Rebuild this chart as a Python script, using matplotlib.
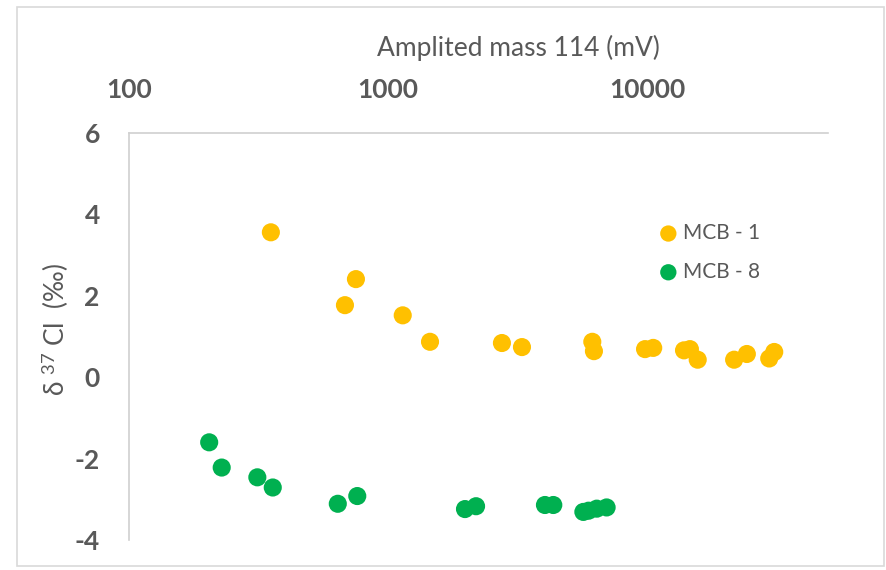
import matplotlib.pyplot as plt
from matplotlib.patches import Rectangle
from matplotlib.ticker import FixedLocator, FixedFormatter, NullLocator

plt.rcParams['font.family'] = ['Lato', 'DejaVu Sans']
plt.rcParams['mathtext.fontset'] = 'custom'
plt.rcParams['mathtext.rm'] = 'Lato'
plt.rcParams['mathtext.it'] = 'Lato:italic'

# amplitude of mass 114 (mV) and delta 37Cl (permil)
mcb1_amp = [353, 682, 752, 1140, 1453, 2754, 3291, 6150, 6240, 9830, 10570,
            13900, 14650, 15700, 21700, 24300, 29650, 31000]
mcb1_d37 = [3.56, 1.77, 2.41, 1.52, 0.87, 0.84, 0.74, 0.87, 0.64, 0.69, 0.72,
            0.66, 0.69, 0.43, 0.43, 0.57, 0.46, 0.62]

mcb8_amp = [204, 228, 313, 359, 640, 761, 1983, 2188, 4037, 4348,
            5680, 5950, 6400, 6985]
mcb8_d37 = [-1.60, -2.22, -2.46, -2.71, -3.11, -2.92, -3.24, -3.17, -3.14, -3.14,
            -3.31, -3.28, -3.23, -3.20]

xticks = [100, 1000, 10000]
yticks = [-4, -2, 0, 2, 4, 6]

gold = '#FFC000'
green = '#00B050'
txt = '#595959'
grid_gray = '#D0D0D0'

fig = plt.figure(figsize=(8.86, 5.70), dpi=100)
W, H = 886, 570

# chart area border
fig.patches.append(Rectangle((17 / W, 1 - 566 / H), (884 - 17) / W, (566 - 7) / H,
                             transform=fig.transFigure, fill=False,
                             edgecolor='#D9D9D9', linewidth=1.2))

ax = fig.add_axes([129 / W, 1 - 540 / H, (828 - 129) / W, (540 - 133) / H])

ax.scatter(mcb1_amp, mcb1_d37, s=170, color=gold, edgecolors='none', label='MCB - 1', zorder=3)
ax.scatter(mcb8_amp, mcb8_d37, s=170, color=green, edgecolors='none', label='MCB - 8', zorder=3)

ax.set_xscale('log')
ax.set_xlim(100, 50000)
ax.set_ylim(-4, 6)

ax.xaxis.tick_top()
ax.xaxis.set_major_locator(FixedLocator(xticks))
ax.xaxis.set_major_formatter(FixedFormatter([str(v) for v in xticks]))
ax.xaxis.set_minor_locator(NullLocator())
ax.set_yticks(yticks)
ax.set_yticklabels([str(v) for v in yticks])

ax.tick_params(axis='x', length=0, pad=22, labelsize=19, labelcolor=txt)
ax.tick_params(axis='y', length=0, pad=21, labelsize=19, labelcolor=txt)
for lab in ax.get_xticklabels() + ax.get_yticklabels():
    lab.set_fontweight('bold')

for side in ['bottom', 'right']:
    ax.spines[side].set_visible(False)
for side in ['left', 'top']:
    ax.spines[side].set_color(grid_gray)
    ax.spines[side].set_linewidth(1.2)

fig.text(518 / W, 1 - 48 / H, 'Amplited mass 114 (mV)', ha='center', va='center',
         fontsize=19, color=txt)
fig.text(55 / W, 1 - 329 / H, r'δ $^{37}$ Cl  (‰)', ha='center', va='center',
         rotation=90, fontsize=19, color=txt)

leg = ax.legend(loc='upper left', bbox_to_anchor=(660 / W, 1 - 223 / H),
                bbox_transform=fig.transFigure, frameon=False, fontsize=15,
                handlelength=0.8, handletextpad=0.3, labelspacing=0.9,
                markerscale=0.9, borderpad=0, borderaxespad=0)
for t in leg.get_texts():
    t.set_color(txt)

fig.savefig('out.png', dpi=100)
